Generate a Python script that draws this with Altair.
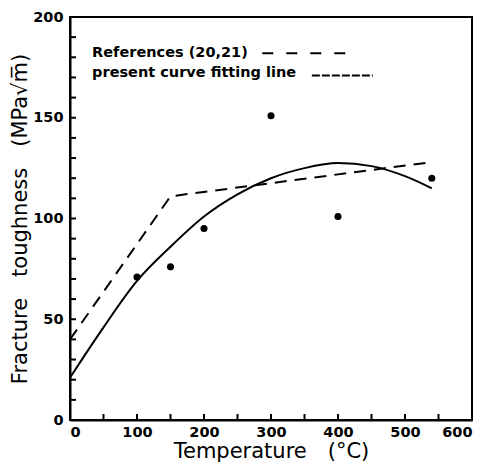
import altair as alt
import pandas as pd

# measured data points
temp_pts = [100, 150, 200, 300, 400, 540]
kic_pts = [71, 76, 95, 151, 101, 120]

# present curve fitting line
fit_t = [0, 50, 100, 150, 200, 250, 300, 350, 400, 450, 500, 540]
fit_k = [21, 46, 69, 86, 101, 112, 120, 125, 127.5, 126, 121, 115]

# references (20,21)
ref_t = [0, 150, 540]
ref_k = [40, 111, 128]

# ticks and labels
x_ticks = list(range(0, 601, 50))
y_ticks = list(range(0, 201, 10))
x_labels = [0, 100, 200, 300, 400, 500, 600]
y_labels = [0, 50, 100, 150, 200]

# legend entries
legend_text = ["References (20,21)", "present curve fitting line"]
legend_tx = [33, 33]
legend_ty = [180, 170]
legend1_x = [287, 413]
legend1_y = [182, 182]
legend2_x = [361, 452]
legend2_y = [171, 171]

W, H = 402, 403

xs = alt.Scale(domain=[0, 600], nice=False, zero=False)
ys = alt.Scale(domain=[0, 200], nice=False, zero=False)

pts_df = pd.DataFrame({"t": temp_pts, "k": kic_pts})
fit_df = pd.DataFrame({"t": fit_t, "k": fit_k})
ref_df = pd.DataFrame({"t": ref_t, "k": ref_k})

x_axis = alt.Axis(
    values=x_labels, ticks=False, grid=False, domainColor="black", domainWidth=2,
    labelFont="DejaVu Sans", labelFontSize=14.5, labelFontWeight="bold", labelColor="black",
    labelPadding=5, title="Temperature\u2003(°C)", titleFont="DejaVu Sans", titleFontSize=21,
    titleFontWeight="normal", titleColor="black", titleY=37, titleBaseline="alphabetic",
)
y_axis = alt.Axis(
    values=y_labels, ticks=False, grid=False, domainColor="black", domainWidth=2,
    labelFont="DejaVu Sans", labelFontSize=14.5, labelFontWeight="bold", labelColor="black",
    labelPadding=7, title="Fracture\u2003toughness\u2003(MPa√m̅)", titleFont="DejaVu Sans",
    titleFontSize=21, titleFontWeight="normal", titleColor="black",
    titleX=-44, titleY=H / 2, titleAngle=270, titleAlign="center", titleBaseline="alphabetic",
)

points = alt.Chart(pts_df).mark_circle(size=50, color="black", opacity=1).encode(
    x=alt.X("t:Q", scale=xs, axis=x_axis),
    y=alt.Y("k:Q", scale=ys, axis=y_axis),
)

fit_line = alt.Chart(fit_df).mark_line(color="black", strokeWidth=2, interpolate="monotone").encode(
    x=alt.X("t:Q", scale=xs), y=alt.Y("k:Q", scale=ys)
)

ref_line = alt.Chart(ref_df).mark_line(color="black", strokeWidth=2, strokeDash=[12, 8]).encode(
    x=alt.X("t:Q", scale=xs), y=alt.Y("k:Q", scale=ys)
)

xt = alt.Chart(pd.DataFrame({"t": x_ticks})).mark_rule(color="black", strokeWidth=2).encode(
    x=alt.X("t:Q", scale=xs), y=alt.value(H), y2=alt.value(H - 6)
)
yt = alt.Chart(pd.DataFrame({"k": y_ticks})).mark_rule(color="black", strokeWidth=2).encode(
    y=alt.Y("k:Q", scale=ys), x=alt.value(0), x2=alt.value(6)
)

leg_text = alt.Chart(pd.DataFrame({"t": legend_tx, "k": legend_ty, "s": legend_text})).mark_text(
    align="left", baseline="alphabetic", font="DejaVu Sans", fontSize=14.5, fontWeight="bold", color="black"
).encode(x=alt.X("t:Q", scale=xs), y=alt.Y("k:Q", scale=ys), text="s:N")

leg1 = alt.Chart(pd.DataFrame({"t": [legend1_x[0]], "t2": [legend1_x[1]], "k": [legend1_y[0]]})).mark_rule(
    color="black", strokeWidth=2, strokeDash=[11, 13]
).encode(x=alt.X("t:Q", scale=xs), x2="t2:Q", y=alt.Y("k:Q", scale=ys))

leg2 = alt.Chart(pd.DataFrame({"t": [legend2_x[0]], "t2": [legend2_x[1]], "k": [legend2_y[0]]})).mark_rule(
    color="black", strokeWidth=2, strokeDash=[8, 2]
).encode(x=alt.X("t:Q", scale=xs), x2="t2:Q", y=alt.Y("k:Q", scale=ys))

chart = alt.layer(points, fit_line, ref_line, xt, yt, leg_text, leg1, leg2).properties(
    width=W, height=H,
    padding={"left": 70, "top": 17, "right": 14, "bottom": 48},
    autosize="none",
    background="white",
).configure_view(stroke="black", strokeWidth=2)

chart.save("out.html", embed_options={"renderer": "svg", "actions": False})
